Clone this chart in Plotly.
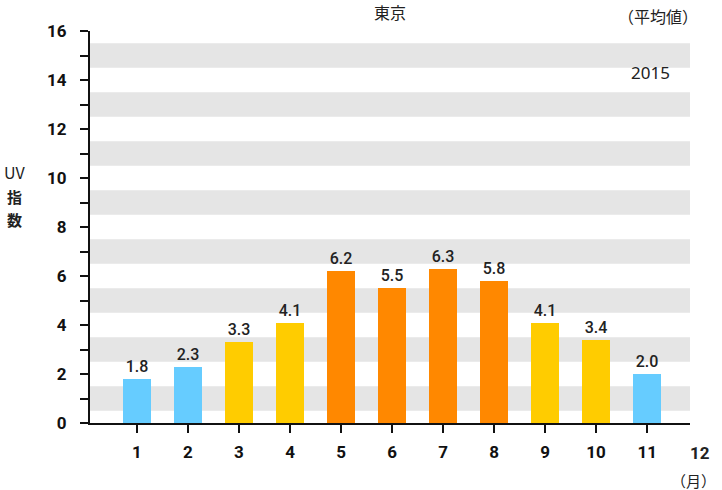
import plotly.graph_objects as go

months = [1, 2, 3, 4, 5, 6, 7, 8, 9, 10, 11]
uv_values = [1.8, 2.3, 3.3, 4.1, 6.2, 5.5, 6.3, 5.8, 4.1, 3.4, 2.0]
value_labels = ["1.8", "2.3", "3.3", "4.1", "6.2", "5.5", "6.3", "5.8", "4.1", "3.4", "2.0"]
bar_colors = ["#66CCFF", "#66CCFF", "#FFCC00", "#FFCC00", "#FF8800", "#FF8800",
              "#FF8800", "#FF8800", "#FFCC00", "#FFCC00", "#66CCFF"]
y_ticks = [0, 2, 4, 6, 8, 10, 12, 14, 16]
x_tick_labels = [str(m) for m in months]

FONT = "Roboto, 'Noto Sans CJK JP', sans-serif"
JFONT = "'Noto Sans CJK JP', 'Noto Sans', sans-serif"

fig = go.Figure()
fig.add_trace(go.Bar(
    x=months, y=uv_values, marker=dict(color=bar_colors, line=dict(width=0)),
    width=0.54, text=value_labels, textposition="outside",
    textfont=dict(size=16, color="#222222", family=FONT, weight=500),
    cliponaxis=False, hoverinfo="skip",
))

shapes = []
for k in range(8):
    shapes.append(dict(type="rect", xref="paper", yref="y", x0=0, x1=1,
                       y0=0.5 + 2 * k, y1=1.5 + 2 * k, fillcolor="#E5E5E5",
                       line=dict(width=0), layer="below"))

W, H = 722, 490
l, r, t, b = 90, 32, 31, 67
pw, ph = W - l - r, H - t - b


def px(x, y):
    return (x - l) / pw, 1 - (y - t) / ph


def ann(text, x, y, size, xanchor="center", family=JFONT, weight="normal"):
    ax, ay = px(x, y)
    return dict(text=text, x=ax, y=ay, xref="paper", yref="paper", showarrow=False,
                xanchor=xanchor, yanchor="middle",
                font=dict(size=size, color="#222222", family=family, weight=weight))


fig.update_layout(
    width=W, height=H, margin=dict(l=l, r=r, t=t, b=b),
    plot_bgcolor="white", paper_bgcolor="white", showlegend=False,
    shapes=shapes, bargap=0,
    font=dict(family=FONT, color="#111111"),
    xaxis=dict(range=[0.08, 11.84], tickvals=months, ticktext=x_tick_labels,
               ticks="outside", ticklen=8, tickwidth=2, tickcolor="#111111",
               showline=True, linecolor="#111111", linewidth=2,
               showgrid=False, zeroline=False, ticklabelstandoff=5,
               tickfont=dict(size=17, family=FONT, weight="bold", color="#111111")),
    yaxis=dict(range=[0, 16], tickvals=y_ticks, ticks="outside", ticklen=8,
               tickwidth=2, tickcolor="#111111", showline=True,
               linecolor="#111111", linewidth=2, showgrid=False, zeroline=False,
               minor=dict(dtick=1, ticks="outside", ticklen=8, tickwidth=2,
                          tickcolor="#111111", showgrid=False),
               ticklabelstandoff=10,
               tickfont=dict(size=17, family=FONT, weight="bold", color="#111111")),
    annotations=[
        ann("東京", 390, 12, 16),
        ann("12", 700, 453, 17, family=FONT, weight="bold"),
        ann("（月）", 718, 480, 15, xanchor="right"),
        ann("（平均値）", 700, 16, 16, xanchor="right"),
        ann("2015", 650, 73, 17, family="'Noto Sans', sans-serif"),
        ann("UV", 14, 172, 16),
        ann("指", 14, 196, 15, weight="bold"),
        ann("数", 14, 219, 15, weight="bold"),
    ],
)

fig.write_html("out.html")
